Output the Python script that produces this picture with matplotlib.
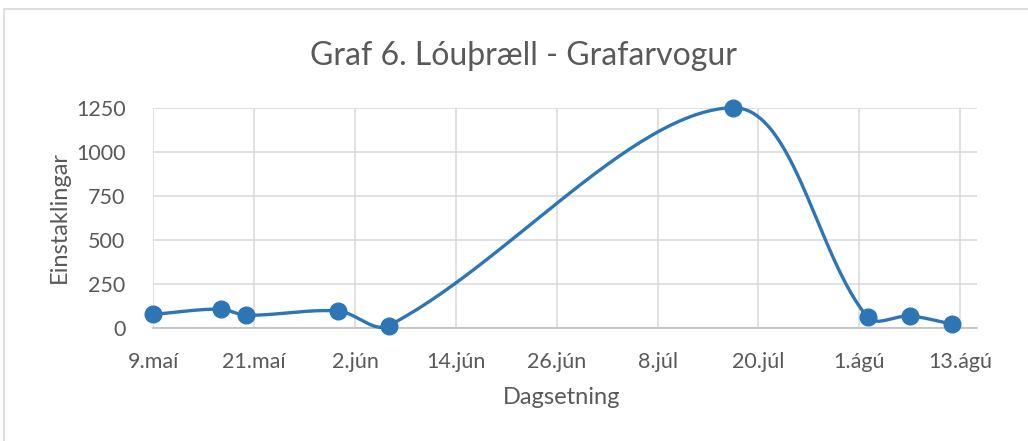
import numpy as np
import matplotlib
matplotlib.use("Agg")
import matplotlib.pyplot as plt
from matplotlib.patches import Rectangle
import datetime as dt

# ---- data ----
dates = ["2019-05-09", "2019-05-17", "2019-05-20", "2019-05-31", "2019-06-06",
         "2019-07-17", "2019-08-02", "2019-08-07", "2019-08-12"]
counts = [79, 109, 74, 98, 15, 1250, 62, 70, 24]
tick_labels = ["9.maí", "21.maí", "2.jún", "14.jún", "26.jún", "8.júl",
               "20.júl", "1.ágú", "13.ágú"]
tick_step_days = 12
yticks = [0, 250, 500, 750, 1000, 1250]

title = "Graf 6. Lóuþræll - Grafarvogur"
xlabel = "Dagsetning"
ylabel = "Einstaklingar"

plt.rcParams['font.family'] = ['Lato', 'DejaVu Sans']
TXT = '#595959'
LINE = '#2E75B6'
W, H = 1028, 441

base = dt.date.fromisoformat(dates[0])
xd = np.array([(dt.date.fromisoformat(d) - base).days for d in dates], float)
yd = np.array(counts, float)

fig = plt.figure(figsize=(W/100, H/100), dpi=100)
fig.patches.append(Rectangle((4/W, -0.01), 1.1, 1 - 9/H + 0.01,
                             transform=fig.transFigure, fill=False,
                             edgecolor='#D9D9D9', linewidth=1.2))
ax = fig.add_axes([153.3/W, 1 - 328.3/H, (977 - 153.3)/W, (328.3 - 107.7)/H])
ax.set_xlim(0, 98)
ax.set_ylim(0, 1250)

xt = np.arange(len(tick_labels)) * tick_step_days
ax.set_xticks(xt)
ax.set_xticklabels(tick_labels)
ax.set_yticks(yticks)
ax.grid(True, color='#D9D9D9', linewidth=1.1)
ax.set_axisbelow(True)
for s in ['top', 'right', 'left']:
    ax.spines[s].set_visible(False)
ax.spines['bottom'].set_color('#BFBFBF')
ax.spines['bottom'].set_linewidth(1.2)
ax.tick_params(axis='both', length=0, labelsize=15.5, colors=TXT)
ax.tick_params(axis='x', pad=17)
ax.tick_params(axis='y', pad=20)

fig.text(524/W, 1 - 65/H, title, fontsize=23, color=TXT, ha='center', va='baseline')
fig.text(562/W, 1 - 404/H, xlabel, fontsize=17, color=TXT, ha='center', va='baseline')
fig.text(59/W, 1 - 217/H, ylabel, fontsize=17, color=TXT, ha='center', va='center',
         rotation=90)

# Excel-like smoothing in display space
fig.canvas.draw()
P = ax.transData.transform(np.column_stack([xd, yd]))
n = len(P)
f = 1/3
curve = []
for i in range(n - 1):
    p0 = P[i - 1] if i > 0 else P[i]
    p1 = P[i]
    p2 = P[i + 1]
    p3 = P[i + 2] if i + 2 < n else P[i + 1]
    d01 = np.linalg.norm(p1 - p0)
    d12 = np.linalg.norm(p2 - p1)
    d23 = np.linalg.norm(p3 - p2)
    t1 = (p2 - p0)
    t2 = (p3 - p1)
    c1 = p1 + t1 * f * d12 / (d01 + d12) if (d01 + d12) > 0 else p1
    c2 = p2 - t2 * f * d12 / (d12 + d23) if (d12 + d23) > 0 else p2
    t = np.linspace(0, 1, 60)[:, None]
    seg = ((1 - t)**3) * p1 + 3 * ((1 - t)**2) * t * c1 + 3 * (1 - t) * t**2 * c2 + t**3 * p2
    curve.append(seg if i == 0 else seg[1:])
curve = np.vstack(curve)
C = ax.transData.inverted().transform(curve)
ax.plot(C[:, 0], C[:, 1], color=LINE, linewidth=2.4, clip_on=False,
        solid_capstyle='round', zorder=3)
ax.plot(xd, yd, linestyle='none', marker='o', markersize=12, color=LINE,
        clip_on=False, zorder=4)

fig.savefig("out.png", dpi=100)
